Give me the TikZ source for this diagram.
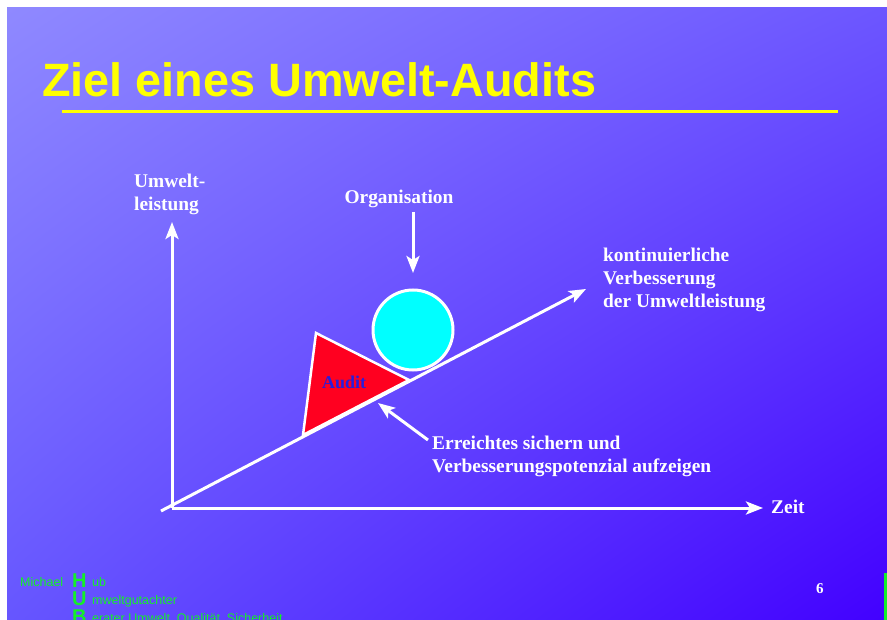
\documentclass[tikz,border=0pt]{standalone}
\usepackage{fontspec}
\setmainfont{Liberation Serif}
\setsansfont{Liberation Sans}
\usetikzlibrary{arrows.meta,shadings}
%
\definecolor{hgOL}{RGB}{143,137,255}
\definecolor{hgOR}{RGB}{108,86,255}
\definecolor{hgUL}{RGB}{102,86,255}
\definecolor{hgUR}{RGB}{66,0,255}
\definecolor{titelgelb}{RGB}{255,255,0}
\definecolor{hubgruen}{RGB}{20,240,40}
\definecolor{auditblau}{RGB}{40,30,220}
\definecolor{auditrot}{RGB}{255,0,32}
\definecolor{kugel}{RGB}{0,255,255}
%
\tikzset{
  pfeil/.style={white, line width=3pt,
                -{Stealth[length=17pt,width=13pt,inset=4pt]}},
  etikett/.style={text=white, inner sep=0pt, anchor=base west, align=left,
                  font=\bfseries\fontsize{19.4}{23}\selectfont},
  fuss/.style={text=hubgruen, inner sep=0pt, anchor=base west,
               font=\sffamily\fontsize{12.5}{15}\selectfont},
}
\begin{document}
\begin{tikzpicture}[x=1pt,y=-1pt]%{{{
\useasboundingbox (0,0) rectangle (887,620);
\clip (0,0) rectangle (887,620);
%
% Hintergrund
\shade [upper left=hgOL, upper right=hgOR, lower left=hgUL, lower right=hgUR]
      (7,8) rectangle (887,620);
\fill [hubgruen] (884,573) rectangle (887,620);
%
% Titel
\node [text=titelgelb, inner sep=0pt, anchor=base west,
       font=\sffamily\bfseries\fontsize{46.8}{46}\selectfont]
      (titel) at (42,97) {Ziel eines Umwelt-Audits};
\draw [titelgelb, line width=3pt] (62,112) -- (838,112);
%
% Achsen
\coordinate (ursprung) at (172,508);
\coordinate (yspitze)  at (172,222);
\coordinate (xspitze)  at (763,508);
\draw [pfeil] (ursprung) -- (yspitze);
\draw [pfeil] (ursprung) -- (xspitze);
\node [etikett] (leistung) at (134,211) {Umwelt-\\leistung};
\node [etikett] (zeit)     at (771,513) {Zeit};
%
% Audit (Keil)
\coordinate (kA) at (316,333);
\coordinate (kB) at (303,435);
\coordinate (kC) at (409,380);
\draw [fill=auditrot, draw=white, line width=2.5pt] (kA) -- (kB) -- (kC) -- cycle;
\node [etikett, text=auditblau, font=\bfseries\fontsize{18}{18}\selectfont]
      (audit) at (322,389) {Audit};
%
% Organisation (Kugel)
\node [circle, draw=white, line width=3pt, fill=kugel, minimum size=80pt]
      (orga) at (413,330) {};
\node [etikett, anchor=base] (orgatext) at (399,204) {Organisation};
\coordinate (orgaspitze) at (413,273);
\draw [pfeil] (413,212) -- (orgaspitze);
%
% kontinuierliche Verbesserung
\coordinate (start)  at (161,511);
\coordinate (pspitze) at (586,289);
\draw [pfeil] (start) -- (pspitze);
\node [etikett] (ziel) at (603,308)
      {kontinuierliche\\Verbesserung\\der Umweltleistung};
%
% Erreichtes sichern
\node [etikett] (sichern) at (432,472)
      {Erreichtes sichern und\\Verbesserungspotenzial aufzeigen};
\coordinate (sspitze) at (378,403);
\draw [pfeil] (428,440) -- (sspitze);
%
% Fusszeile
\node [fuss] (michael) at (20,586) {Michael};
\foreach \b/\r/\y in {H/ub/586,U/mweltgutachter/604,
                      B/{erater Umwelt, Qualität, Sicherheit}/622}
{
  \node [fuss, text height=14pt, text depth=0pt,
         font=\sffamily\bfseries\fontsize{20}{20}\selectfont]
        (hub\b) at (72,\y+1) {\b};
  \node [fuss] (rest\b) at (92,\y) {\r};
}
\node [etikett, font=\bfseries\fontsize{15}{15}\selectfont] (seite) at (816,593) {6};
%
\end{tikzpicture}
\end{document}
